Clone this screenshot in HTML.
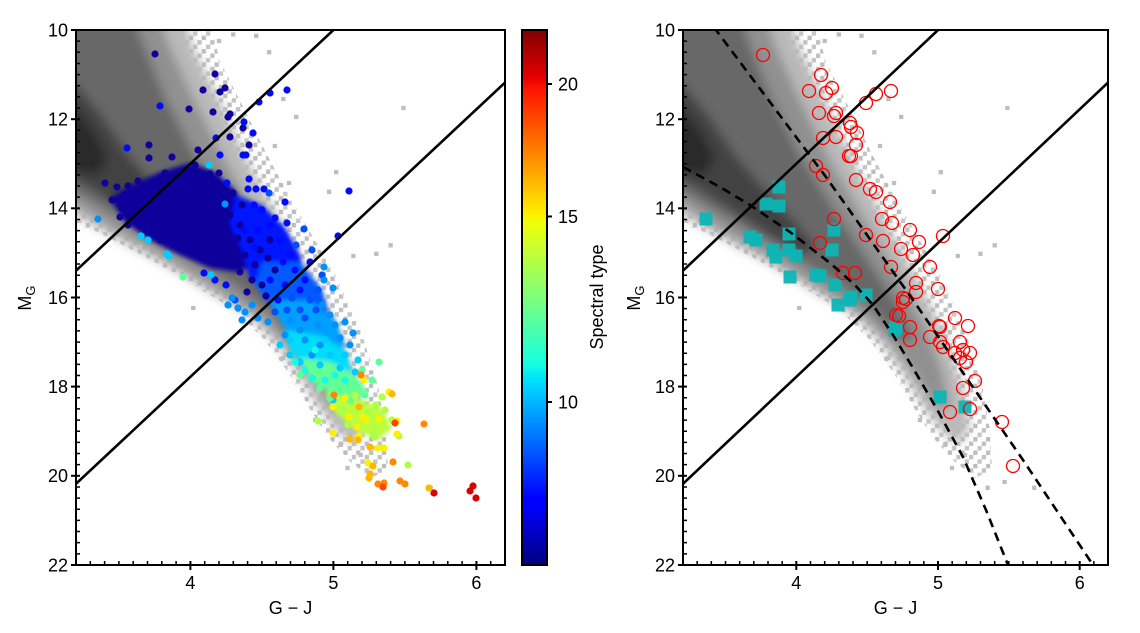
<!DOCTYPE html>
<html><head><meta charset="utf-8">
<style>
html,body{margin:0;padding:0;background:#fff;}
svg{display:block;font-family:"Liberation Sans","DejaVu Sans",sans-serif;}
text{fill:#000;font-size:18px;}
</style></head>
<body>
<svg xmlns="http://www.w3.org/2000/svg" xmlns:xlink="http://www.w3.org/1999/xlink" width="1140" height="633" viewBox="0 0 1140 633">
<defs>
<clipPath id="cl"><rect x="76" y="30" width="429" height="535"/></clipPath>
<clipPath id="cr"><rect x="683" y="30" width="425" height="535"/></clipPath>
<filter id="bl" x="-20%" y="-20%" width="140%" height="140%"><feGaussianBlur stdDeviation="5"/></filter>
<filter id="bs" x="-20%" y="-20%" width="140%" height="140%"><feGaussianBlur stdDeviation="2"/></filter>
<pattern id="sp" patternUnits="userSpaceOnUse" width="12.75" height="13.38">
<rect x="0" y="0" width="4.25" height="4.46" fill="#c2c2c2"/>
<rect x="8.5" y="4.46" width="4.25" height="4.46" fill="#c6c6c6"/>
<rect x="4.25" y="8.92" width="4.25" height="4.46" fill="#bdbdbd"/>
</pattern>
<linearGradient id="jet" x1="0" y1="1" x2="0" y2="0">
<stop offset="0" stop-color="rgb(0,0,128)"/>
<stop offset="0.11" stop-color="rgb(0,0,255)"/>
<stop offset="0.125" stop-color="rgb(0,0,255)"/>
<stop offset="0.34" stop-color="rgb(0,219,255)"/>
<stop offset="0.35" stop-color="rgb(0,229,247)"/>
<stop offset="0.375" stop-color="rgb(21,255,226)"/>
<stop offset="0.64" stop-color="rgb(239,255,8)"/>
<stop offset="0.65" stop-color="rgb(247,245,0)"/>
<stop offset="0.66" stop-color="rgb(255,236,0)"/>
<stop offset="0.89" stop-color="rgb(255,19,0)"/>
<stop offset="0.91" stop-color="rgb(232,0,0)"/>
<stop offset="1" stop-color="rgb(128,0,0)"/>
</linearGradient>
<g id="grey">
<polygon fill="url(#sp)" points="600,0 812,0 825,60 850,110 875,160 905,215 940,275 965,330 982,385 990,430 992,470 975,478 955,462 935,440 915,410 895,375 870,340 840,310 795,282 750,256 705,232 683,225 600,215"/>
<g filter="url(#bl)">
<polygon fill="#b9b9b9" points="600,0 785,0 800,50 825,100 852,160 885,220 918,280 945,335 962,385 970,425 960,445 942,432 922,405 902,372 880,342 852,314 812,290 768,263 725,240 683,216 600,205"/>
<polygon fill="#909090" points="600,0 760,0 775,45 800,100 830,160 862,215 895,270 925,325 942,370 950,405 938,410 918,380 893,345 863,316 823,291 780,263 735,238 700,216 683,204 600,195"/>
<polygon fill="#686868" points="600,0 735,0 748,40 770,95 800,155 835,210 868,260 898,305 915,340 900,342 875,312 840,285 795,258 750,232 710,208 683,192 600,180"/>
<polygon fill="#424242" points="600,60 683,85 708,115 735,155 765,190 795,222 815,245 805,255 770,236 735,213 705,193 683,180 600,165"/>
<polygon fill="#2c2c2c" points="600,95 683,108 700,130 715,158 705,175 683,172 600,160"/>
</g>
<g stroke="#bebebe" stroke-width="4.3" stroke-linecap="square" fill="none">
<path d="M1007.4 108h0M940.8 172.2h0M894 183h0M933.8 191.8h0M901.2 117h0M861.5 35.8h0M880 146h0M888.4 99h0M994.7 245.3h0M980.5 253.8h0M957.8 256h0M799.2 308h0M746.8 247h0M888.4 358h0M922.4 392h0M987.6 487.8h0M1004.6 482h0M1034.3 487.8h0M838.8 34.5h0M874.3 52.3h0M824.7 41h0M920 420h0M945 445h0M965 455h0M952 468h0"/>
</g>
</g>
</defs>

<!-- LEFT PANEL -->
<g clip-path="url(#cl)">
<use href="#grey" xlink:href="#grey" transform="translate(76,0) scale(1.00937,1) translate(-683,0)"/>
<g filter="url(#bs)">
<polygon fill="rgb(15,0,155)" points="110,198 130,186 160,172 190,163 215,172 235,190 250,212 262,240 258,262 238,272 210,268 180,255 150,240 125,222"/>
<polygon fill="rgb(0,20,255)" points="235,195 262,205 285,228 300,255 305,282 292,296 270,292 250,280 242,250 230,225"/>
<polygon fill="rgb(0,90,255)" points="262,262 300,262 322,290 330,318 315,330 290,322 270,305 255,285"/>
<polygon fill="rgb(0,160,255)" points="270,300 310,300 335,320 345,345 330,355 300,345 282,325"/>
<polygon fill="rgb(0,220,250)" points="285,330 320,335 345,350 352,372 335,378 305,368 290,350"/>
<polygon fill="rgb(100,255,150)" points="300,358 330,362 355,375 368,392 355,400 330,393 310,380"/>
<polygon fill="rgb(185,255,60)" points="325,392 355,398 382,408 392,428 378,440 352,428 335,412"/>
</g>
<g fill="rgb(15,0,155)">
<circle cx="155" cy="54" r="3.6"/><circle cx="215" cy="74" r="3.6"/><circle cx="203" cy="90" r="3.6"/><circle cx="220" cy="92" r="3.6"/><circle cx="225" cy="88" r="3.6"/><circle cx="189" cy="109" r="3.6"/><circle cx="213" cy="112" r="3.6"/><circle cx="228" cy="117" r="3.6"/><circle cx="230" cy="114" r="3.6"/><circle cx="243" cy="128" r="3.6"/><circle cx="230" cy="137" r="3.6"/><circle cx="249" cy="145" r="3.6"/><circle cx="149" cy="145" r="3.6"/><circle cx="198" cy="150" r="3.6"/><circle cx="149" cy="158" r="3.6"/><circle cx="172" cy="157" r="3.6"/><circle cx="210" cy="174" r="3.6"/><circle cx="219" cy="173" r="3.6"/><circle cx="105" cy="183" r="3.6"/><circle cx="117" cy="187" r="3.6"/><circle cx="128" cy="186" r="3.6"/><circle cx="138" cy="181" r="3.6"/><circle cx="120" cy="217" r="3.6"/><circle cx="112" cy="200" r="3.6"/><circle cx="125" cy="195" r="3.6"/><circle cx="133" cy="205" r="3.6"/><circle cx="145" cy="196" r="3.6"/><circle cx="150" cy="210" r="3.6"/><circle cx="160" cy="188" r="3.6"/><circle cx="165" cy="200" r="3.6"/><circle cx="178" cy="180" r="3.6"/><circle cx="185" cy="172" r="3.6"/><circle cx="195" cy="165" r="3.6"/><circle cx="205" cy="178" r="3.6"/><circle cx="190" cy="195" r="3.6"/><circle cx="200" cy="205" r="3.6"/><circle cx="212" cy="195" r="3.6"/><circle cx="222" cy="200" r="3.6"/><circle cx="230" cy="215" r="3.6"/><circle cx="240" cy="225" r="3.6"/><circle cx="250" cy="240" r="3.6"/><circle cx="245" cy="255" r="3.6"/><circle cx="235" cy="262" r="3.6"/><circle cx="220" cy="262" r="3.6"/><circle cx="205" cy="258" r="3.6"/><circle cx="190" cy="250" r="3.6"/><circle cx="175" cy="245" r="3.6"/><circle cx="160" cy="240" r="3.6"/><circle cx="150" cy="232" r="3.6"/><circle cx="140" cy="225" r="3.6"/><circle cx="170" cy="220" r="3.6"/><circle cx="185" cy="230" r="3.6"/><circle cx="210" cy="235" r="3.6"/><circle cx="225" cy="245" r="3.6"/><circle cx="260" cy="250" r="3.6"/><circle cx="255" cy="265" r="3.6"/><circle cx="240" cy="272" r="3.6"/><circle cx="268" cy="258" r="3.6"/><circle cx="275" cy="270" r="3.6"/><circle cx="262" cy="285" r="3.6"/><circle cx="252" cy="280" r="3.6"/><circle cx="233" cy="248" r="3.6"/><circle cx="198" cy="238" r="3.6"/><circle cx="180" cy="208" r="3.6"/><circle cx="158" cy="225" r="3.6"/><circle cx="128" cy="225" r="3.6"/><circle cx="215" cy="250" r="3.6"/><circle cx="238" cy="238" r="3.6"/><circle cx="242" cy="205" r="3.6"/><circle cx="233" cy="193" r="3.6"/><circle cx="198" cy="180" r="3.6"/><circle cx="180" cy="194" r="3.6"/><circle cx="165" cy="173" r="3.6"/><circle cx="122" cy="208" r="3.6"/><circle cx="135" cy="215" r="3.6"/><circle cx="270" cy="240" r="3.6"/><circle cx="266" cy="296" r="3.6"/><circle cx="247" cy="292" r="3.6"/>
</g>
<g fill="rgb(0,10,255)">
<circle cx="270" cy="93" r="3.6"/><circle cx="287" cy="90" r="3.6"/><circle cx="259" cy="102" r="3.6"/><circle cx="160" cy="106" r="3.6"/><circle cx="244" cy="122" r="3.6"/><circle cx="253" cy="133" r="3.6"/><circle cx="216" cy="138" r="3.6"/><circle cx="127" cy="148" r="3.6"/><circle cx="220" cy="155" r="3.6"/><circle cx="243" cy="155" r="3.6"/><circle cx="246" cy="155" r="3.6"/><circle cx="249" cy="179" r="3.6"/><circle cx="227" cy="183" r="3.6"/><circle cx="256" cy="189" r="3.6"/><circle cx="264" cy="189" r="3.6"/><circle cx="349" cy="191" r="3.6"/><circle cx="285" cy="202" r="3.6"/><circle cx="254" cy="205" r="3.6"/><circle cx="287" cy="223" r="3.6"/><circle cx="275" cy="218" r="3.6"/><circle cx="338" cy="236" r="3.6"/><circle cx="204" cy="273" r="3.6"/><circle cx="248" cy="189" r="3.6"/><circle cx="262" cy="210" r="3.6"/><circle cx="270" cy="225" r="3.6"/><circle cx="280" cy="240" r="3.6"/><circle cx="290" cy="255" r="3.6"/><circle cx="295" cy="270" r="3.6"/><circle cx="285" cy="285" r="3.6"/><circle cx="270" cy="280" r="3.6"/><circle cx="300" cy="290" r="3.6"/><circle cx="305" cy="280" r="3.6"/><circle cx="278" cy="300" r="3.6"/><circle cx="258" cy="230" r="3.6"/><circle cx="283" cy="262" r="3.6"/><circle cx="310" cy="262" r="3.6"/><circle cx="255" cy="248" r="3.6"/><circle cx="244" cy="230" r="3.6"/><circle cx="215" cy="280" r="3.6"/><circle cx="226" cy="285" r="3.6"/>
</g>
<g fill="rgb(0,80,255)">
<circle cx="269" cy="193" r="3.6"/><circle cx="304" cy="229" r="3.6"/><circle cx="296" cy="245" r="3.6"/><circle cx="312" cy="250" r="3.6"/><circle cx="300" cy="310" r="3.6"/><circle cx="287" cy="310" r="3.6"/><circle cx="275" cy="312" r="3.6"/><circle cx="310" cy="300" r="3.6"/><circle cx="318" cy="290" r="3.6"/><circle cx="305" cy="318" r="3.6"/><circle cx="316" cy="310" r="3.6"/><circle cx="322" cy="275" r="3.6"/><circle cx="292" cy="298" r="3.6"/><circle cx="235" cy="300" r="3.6"/>
</g>
<g fill="rgb(0,145,255)">
<circle cx="98" cy="219" r="3.6"/><circle cx="324" cy="267" r="3.6"/><circle cx="324" cy="280" r="3.6"/><circle cx="333" cy="288" r="3.6"/><circle cx="225" cy="204" r="3.6"/><circle cx="322" cy="305" r="3.6"/><circle cx="330" cy="315" r="3.6"/><circle cx="318" cy="325" r="3.6"/><circle cx="300" cy="330" r="3.6"/><circle cx="290" cy="320" r="3.6"/><circle cx="285" cy="335" r="3.6"/><circle cx="305" cy="340" r="3.6"/><circle cx="320" cy="345" r="3.6"/><circle cx="335" cy="325" r="3.6"/><circle cx="340" cy="338" r="3.6"/><circle cx="350" cy="345" r="3.6"/><circle cx="312" cy="355" r="3.6"/><circle cx="228" cy="305" r="3.6"/><circle cx="238" cy="308" r="3.6"/><circle cx="245" cy="312" r="3.6"/><circle cx="232" cy="298" r="3.6"/><circle cx="252" cy="305" r="3.6"/><circle cx="258" cy="318" r="3.6"/><circle cx="268" cy="322" r="3.6"/><circle cx="242" cy="320" r="3.6"/><circle cx="345" cy="322" r="3.6"/><circle cx="353" cy="333" r="3.6"/>
</g>
<g fill="rgb(0,205,255)">
<circle cx="209" cy="165" r="3.6"/><circle cx="141" cy="236" r="3.6"/><circle cx="148" cy="240" r="3.6"/><circle cx="167" cy="254" r="3.6"/><circle cx="169" cy="256" r="3.6"/><circle cx="211" cy="275" r="3.6"/><circle cx="333" cy="400" r="3.6"/><circle cx="290" cy="340" r="3.6"/><circle cx="300" cy="362" r="3.6"/><circle cx="320" cy="365" r="3.6"/><circle cx="330" cy="355" r="3.6"/><circle cx="340" cy="368" r="3.6"/><circle cx="325" cy="340" r="3.6"/><circle cx="355" cy="372" r="3.6"/><circle cx="290" cy="355" r="3.6"/><circle cx="345" cy="355" r="3.6"/><circle cx="358" cy="360" r="3.6"/><circle cx="280" cy="345" r="3.6"/>
</g>
<g fill="rgb(20,255,225)">
<circle cx="315" cy="350" r="3.6"/><circle cx="335" cy="375" r="3.6"/><circle cx="325" cy="380" r="3.6"/><circle cx="345" cy="380" r="3.6"/><circle cx="305" cy="370" r="3.6"/><circle cx="295" cy="362" r="3.6"/><circle cx="312" cy="378" r="3.6"/>
</g>
<g fill="rgb(93,255,153)">
<circle cx="183" cy="277" r="3.6"/><circle cx="379" cy="362" r="3.6"/><circle cx="300" cy="375" r="3.6"/><circle cx="320" cy="388" r="3.6"/><circle cx="340" cy="392" r="3.6"/><circle cx="355" cy="385" r="3.6"/><circle cx="365" cy="395" r="3.6"/><circle cx="330" cy="398" r="3.6"/><circle cx="350" cy="400" r="3.6"/><circle cx="372" cy="380" r="3.6"/><circle cx="362" cy="370" r="3.6"/>
</g>
<g fill="rgb(176,255,71)">
<circle cx="318" cy="421" r="3.6"/><circle cx="373" cy="434" r="3.6"/><circle cx="375" cy="437" r="3.6"/><circle cx="408" cy="465" r="3.6"/><circle cx="374" cy="422" r="3.6"/><circle cx="382" cy="397" r="3.6"/><circle cx="399" cy="436" r="3.6"/><circle cx="343" cy="410" r="3.6"/><circle cx="362" cy="405" r="3.6"/><circle cx="355" cy="395" r="3.6"/><circle cx="385" cy="410" r="3.6"/><circle cx="392" cy="420" r="3.6"/><circle cx="368" cy="412" r="3.6"/><circle cx="376" cy="405" r="3.6"/><circle cx="348" cy="425" r="3.6"/><circle cx="338" cy="408" r="3.6"/>
</g>
<g fill="rgb(249,243,0)">
<circle cx="333" cy="433" r="3.6"/><circle cx="359" cy="436" r="3.6"/><circle cx="378" cy="448" r="3.6"/><circle cx="384" cy="448" r="3.6"/><circle cx="368" cy="463" r="3.6"/><circle cx="389" cy="392" r="3.6"/><circle cx="397" cy="421" r="3.6"/><circle cx="364" cy="380" r="3.6"/><circle cx="333" cy="407" r="3.6"/><circle cx="349" cy="417" r="3.6"/><circle cx="362" cy="417" r="3.6"/><circle cx="366" cy="420" r="3.6"/><circle cx="379" cy="419" r="3.6"/><circle cx="397" cy="434" r="3.6"/><circle cx="357" cy="427" r="3.6"/><circle cx="345" cy="398" r="3.6"/>
</g>
<g fill="rgb(255,184,0)">
<circle cx="358" cy="440" r="3.6"/><circle cx="370" cy="447" r="3.6"/><circle cx="429" cy="488" r="3.6"/><circle cx="392" cy="394" r="3.6"/><circle cx="359" cy="407" r="3.6"/><circle cx="370" cy="474" r="3.6"/><circle cx="373" cy="466" r="3.6"/><circle cx="369" cy="478" r="3.6"/><circle cx="350" cy="439" r="3.6"/>
</g>
<g fill="rgb(255,136,0)">
<circle cx="361" cy="375" r="3.6"/><circle cx="334" cy="395" r="3.6"/><circle cx="393" cy="462" r="3.6"/><circle cx="378" cy="484" r="3.6"/><circle cx="400" cy="481" r="3.6"/><circle cx="405" cy="484" r="3.6"/><circle cx="424" cy="424" r="3.6"/><circle cx="384" cy="483" r="3.6"/>
</g>
<g fill="rgb(255,69,0)">
<circle cx="383" cy="487" r="3.6"/><circle cx="395" cy="423" r="3.6"/>
</g>
<g fill="rgb(217,0,0)">
<circle cx="434" cy="493" r="3.6"/><circle cx="473" cy="486" r="3.6"/><circle cx="470" cy="491" r="3.6"/><circle cx="476" cy="498" r="3.6"/>
</g>
</g>
<g clip-path="url(#cl)" stroke="#000" stroke-width="2.6" fill="none">
<line x1="76" y1="270.7" x2="333.4" y2="30"/>
<line x1="76" y1="483.8" x2="505" y2="82.6"/>
</g>

<!-- RIGHT PANEL -->
<g clip-path="url(#cr)">
<use href="#grey" xlink:href="#grey"/>
<g fill="#0db5b5" fill-opacity="0.95">
<rect x="772.5" y="180.5" width="13" height="13"/><rect x="759.5" y="197.5" width="13" height="13"/><rect x="772.5" y="199.5" width="13" height="13"/><rect x="699.5" y="212.5" width="13" height="13"/><rect x="743.5" y="230.5" width="13" height="13"/><rect x="749.5" y="233.5" width="13" height="13"/><rect x="782.5" y="227.5" width="13" height="13"/><rect x="766.5" y="243.5" width="13" height="13"/><rect x="769.5" y="250.5" width="13" height="13"/><rect x="782.5" y="243.5" width="13" height="13"/><rect x="789.5" y="249.5" width="13" height="13"/><rect x="827.5" y="223.5" width="13" height="13"/><rect x="825.5" y="243.5" width="13" height="13"/><rect x="783.5" y="270.5" width="13" height="13"/><rect x="809.5" y="268.5" width="13" height="13"/><rect x="813.5" y="269.5" width="13" height="13"/><rect x="828.5" y="278.5" width="13" height="13"/><rect x="844.5" y="290.5" width="13" height="13"/><rect x="859.5" y="288.5" width="13" height="13"/><rect x="831.5" y="298.5" width="13" height="13"/><rect x="843.5" y="293.5" width="13" height="13"/><rect x="889.5" y="320.5" width="13" height="13"/><rect x="888.5" y="323.5" width="13" height="13"/><rect x="933.5" y="390.5" width="13" height="13"/><rect x="958.5" y="400.5" width="13" height="13"/>
</g>
<g fill="none" stroke="#ff0000" stroke-width="1.3">
<circle cx="763" cy="55" r="6.5"/><circle cx="821" cy="75" r="6.5"/><circle cx="809" cy="91" r="6.5"/><circle cx="826" cy="93" r="6.5"/><circle cx="832" cy="88" r="6.5"/><circle cx="866" cy="103" r="6.5"/><circle cx="876" cy="94" r="6.5"/><circle cx="891" cy="91" r="6.5"/><circle cx="819" cy="113" r="6.5"/><circle cx="834" cy="116" r="6.5"/><circle cx="836" cy="113" r="6.5"/><circle cx="850" cy="123" r="6.5"/><circle cx="851" cy="127" r="6.5"/><circle cx="857" cy="133" r="6.5"/><circle cx="823" cy="138" r="6.5"/><circle cx="836" cy="137" r="6.5"/><circle cx="856" cy="145" r="6.5"/><circle cx="849" cy="156" r="6.5"/><circle cx="851" cy="156" r="6.5"/><circle cx="816" cy="166" r="6.5"/><circle cx="823" cy="175" r="6.5"/><circle cx="856" cy="180" r="6.5"/><circle cx="870" cy="189" r="6.5"/><circle cx="876" cy="192" r="6.5"/><circle cx="890" cy="202" r="6.5"/><circle cx="834" cy="219" r="6.5"/><circle cx="882" cy="219" r="6.5"/><circle cx="892" cy="223" r="6.5"/><circle cx="910" cy="230" r="6.5"/><circle cx="866" cy="235" r="6.5"/><circle cx="883" cy="241" r="6.5"/><circle cx="919" cy="242" r="6.5"/><circle cx="901" cy="249" r="6.5"/><circle cx="913" cy="255" r="6.5"/><circle cx="943" cy="236" r="6.5"/><circle cx="820" cy="243" r="6.5"/><circle cx="891" cy="267" r="6.5"/><circle cx="930" cy="267" r="6.5"/><circle cx="843" cy="273" r="6.5"/><circle cx="855" cy="273" r="6.5"/><circle cx="916" cy="283" r="6.5"/><circle cx="916" cy="292" r="6.5"/><circle cx="938" cy="289" r="6.5"/><circle cx="903" cy="298" r="6.5"/><circle cx="906" cy="299" r="6.5"/><circle cx="896" cy="315" r="6.5"/><circle cx="899" cy="316" r="6.5"/><circle cx="910" cy="327" r="6.5"/><circle cx="955" cy="318" r="6.5"/><circle cx="968" cy="326" r="6.5"/><circle cx="939" cy="326" r="6.5"/><circle cx="903" cy="302" r="6.5"/><circle cx="940" cy="327" r="6.5"/><circle cx="910" cy="340" r="6.5"/><circle cx="930" cy="337" r="6.5"/><circle cx="940" cy="342" r="6.5"/><circle cx="943" cy="347" r="6.5"/><circle cx="960" cy="342" r="6.5"/><circle cx="963" cy="350" r="6.5"/><circle cx="955" cy="353" r="6.5"/><circle cx="960" cy="358" r="6.5"/><circle cx="966" cy="362" r="6.5"/><circle cx="970" cy="353" r="6.5"/><circle cx="975" cy="381" r="6.5"/><circle cx="963" cy="388" r="6.5"/><circle cx="970" cy="409" r="6.5"/><circle cx="950" cy="412" r="6.5"/><circle cx="1002" cy="422" r="6.5"/><circle cx="1013" cy="466" r="6.5"/>
</g>
</g>
<g clip-path="url(#cr)" stroke="#000" stroke-width="2.6" fill="none">
<line x1="683" y1="270.7" x2="938" y2="30"/>
<line x1="683" y1="483.8" x2="1108" y2="82.6"/>
<polyline stroke-dasharray="9 6" stroke-linejoin="round" points="705,15 716,30 826,177 913,300 1023,460 1093,565 1100,580"/>
<polyline stroke-dasharray="9 6" stroke-linejoin="round" points="683,167 720,187 750,205 790,232 830,263 855,285 873,305 893,335 913,368 938,411 963,457 986,510 1008,565 1015,585"/>
</g>

<!-- ticks -->
<g stroke="#000" fill="none">
<line x1="89.55" y1="563" x2="505" y2="563" stroke-width="4" stroke-dasharray="1.5 12.8"/>
<line x1="78" y1="40.4" x2="78" y2="565" stroke-width="4" stroke-dasharray="1.5 9.645"/>
<line x1="696.42" y1="563" x2="1108" y2="563" stroke-width="4" stroke-dasharray="1.5 12.667"/>
<line x1="685" y1="40.4" x2="685" y2="565" stroke-width="4" stroke-dasharray="1.5 9.645"/>
<g stroke-width="2">
<line x1="190.4" y1="561" x2="190.4" y2="570"/><line x1="333.4" y1="561" x2="333.4" y2="570"/><line x1="476.4" y1="561" x2="476.4" y2="570"/>
<line x1="796.3" y1="561" x2="796.3" y2="570"/><line x1="938" y1="561" x2="938" y2="570"/><line x1="1079.7" y1="561" x2="1079.7" y2="570"/>
<line x1="71" y1="30" x2="80" y2="30"/><line x1="71" y1="119.2" x2="80" y2="119.2"/><line x1="71" y1="208.3" x2="80" y2="208.3"/><line x1="71" y1="297.5" x2="80" y2="297.5"/><line x1="71" y1="386.6" x2="80" y2="386.6"/><line x1="71" y1="475.8" x2="80" y2="475.8"/><line x1="71" y1="565" x2="80" y2="565"/>
<line x1="678" y1="30" x2="687" y2="30"/><line x1="678" y1="119.2" x2="687" y2="119.2"/><line x1="678" y1="208.3" x2="687" y2="208.3"/><line x1="678" y1="297.5" x2="687" y2="297.5"/><line x1="678" y1="386.6" x2="687" y2="386.6"/><line x1="678" y1="475.8" x2="687" y2="475.8"/><line x1="678" y1="565" x2="687" y2="565"/>
</g>
</g>

<rect x="76" y="30" width="429" height="535" fill="none" stroke="#000" stroke-width="2"/>
<rect x="683" y="30" width="425" height="535" fill="none" stroke="#000" stroke-width="2"/>

<!-- colorbar -->
<rect x="522" y="30" width="25" height="535" fill="url(#jet)" stroke="#000" stroke-width="2"/>
<g stroke="#000" stroke-width="2">
<line x1="547" y1="84" x2="552" y2="84"/>
<line x1="547" y1="216.5" x2="552" y2="216.5"/>
<line x1="547" y1="402" x2="552" y2="402"/>
</g>
<text x="558" y="90.5">20</text>
<text x="558" y="223">15</text>
<text x="558" y="408.5">10</text>
<text transform="translate(603,297) rotate(-90)" text-anchor="middle">Spectral type</text>

<g text-anchor="end">
<text x="68" y="36.5">10</text>
<text x="68" y="125.6">12</text>
<text x="68" y="214.7">14</text>
<text x="68" y="303.9">16</text>
<text x="68" y="393">18</text>
<text x="68" y="482.2">20</text>
<text x="68" y="571.3">22</text>
<text x="675" y="36.5">10</text>
<text x="675" y="125.6">12</text>
<text x="675" y="214.7">14</text>
<text x="675" y="303.9">16</text>
<text x="675" y="393">18</text>
<text x="675" y="482.2">20</text>
<text x="675" y="571.3">22</text>
</g>
<g text-anchor="middle">
<text x="190.4" y="589">4</text>
<text x="333.4" y="589">5</text>
<text x="476.4" y="589">6</text>
<text x="796.3" y="589">4</text>
<text x="938" y="589">5</text>
<text x="1079.7" y="589">6</text>
<text x="290.5" y="614">G − J</text>
<text x="895.5" y="614">G − J</text>
</g>
<text transform="translate(31,298) rotate(-90)" text-anchor="middle">M<tspan dy="4" font-size="13">G</tspan></text>
<text transform="translate(640,298) rotate(-90)" text-anchor="middle">M<tspan dy="4" font-size="13">G</tspan></text>
</svg>
</body></html>
